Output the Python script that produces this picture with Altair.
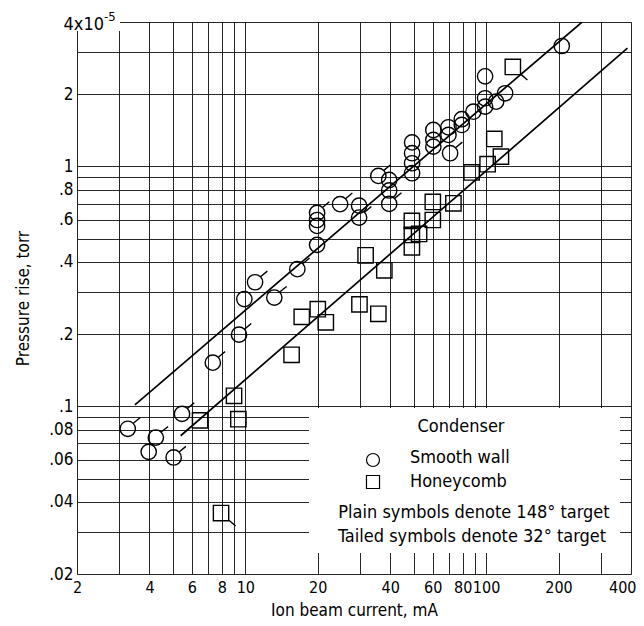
import altair as alt
import pandas as pd

FONT = "Liberation Sans Narrow, DejaVu Sans Condensed, Arial Narrow, sans-serif"

# ---- Smooth wall condenser (circles): ion beam current (mA), pressure rise (1e-5 torr)
sw_current = [3.25, 3.97, 4.25, 5.04, 5.46, 7.33, 9.42, 9.91, 10.98, 13.2,
              16.45, 19.87, 19.87, 19.87, 19.87, 24.76, 29.7, 29.7, 35.7, 39.6,
              39.6, 39.6, 49.3, 49.3, 49.3, 49.3, 60.4, 60.4, 60.4, 69.8,
              69.8, 70.9, 79.3, 79.3, 88.6, 99.1, 99.1, 110.1, 120.0, 99.1,
              206.3]
sw_pressure = [0.0806, 0.0646, 0.0741, 0.0612, 0.093, 0.152, 0.199, 0.280, 0.329, 0.284,
               0.373, 0.471, 0.640, 0.598, 0.565, 0.696, 0.686, 0.612, 0.913, 0.878,
               0.794, 0.698, 1.259, 1.135, 1.031, 0.937, 1.419, 1.289, 1.209, 1.456,
               1.353, 1.135, 1.573, 1.489, 1.691, 1.924, 1.775, 1.862, 2.018, 2.375,
               3.177]
sw_tailed = [1, 0, 1, 1, 1, 1, 1, 0, 1, 1,
             1, 0, 1, 0, 0, 1, 0, 1, 1, 0,
             0, 1, 0, 0, 0, 0, 0, 0, 0, 0,
             0, 1, 0, 0, 0, 0, 0, 0, 0, 0,
             0]

# ---- Honeycomb condenser (squares)
hc_current = [6.49, 8.98, 9.36, 7.93, 15.57, 17.16, 20.0, 21.6, 29.8, 35.7,
              31.6, 37.8, 49.2, 49.2, 52.7, 49.2, 60.1, 60.1, 73.2, 87.1,
              101.5, 115.3, 108.2, 129.2]
hc_pressure = [0.0874, 0.1106, 0.0884, 0.0359, 0.164, 0.236, 0.254, 0.224, 0.266, 0.243,
               0.426, 0.369, 0.593, 0.518, 0.523, 0.460, 0.598, 0.711, 0.702, 0.944,
               1.022, 1.099, 1.302, 2.598]
hc_tailed = [0, 0, 0, 1, 0, 0, 0, 0, 0, 0,
             0, 0, 0, 0, 0, 0, 0, 0, 0, 0,
             0, 0, 0, 1]

# ---- Fitted lines (end points)
fit_sw_current = [3.48, 250.6]
fit_sw_pressure = [0.1014, 4.0]
fit_hc_current = [5.39, 386.6]
fit_hc_pressure = [0.0754, 3.11]

# ---- Axis grid / labels
x_grid = [2, 3, 4, 5, 6, 7, 8, 9, 10, 20, 30, 40, 50, 60, 70, 80, 90, 100, 200, 300, 400]
x_labels = [2, 4, 6, 8, 10, 20, 40, 60, 80, 100, 200, 400]
y_grid = [0.02, 0.03, 0.04, 0.05, 0.06, 0.07, 0.08, 0.09, 0.1,
          0.2, 0.3, 0.4, 0.5, 0.6, 0.7, 0.8, 0.9, 1, 2, 3, 4]
y_label_vals = [0.02, 0.04, 0.06, 0.08, 0.1, 0.2, 0.4, 0.6, 0.8, 1, 2]
y_label_txt = [".02", ".04", ".06", ".08", ".1", ".2", ".4", ".6", ".8", "1", "2"]

legend_title = "Condenser"
legend_labels = ["Smooth wall", "Honeycomb"]
notes = ["Plain symbols denote 148\u00b0 target", "Tailed symbols denote 32\u00b0 target"]

CIRCLE_TAIL = "M-1,0A1,1,0,1,1,1,0A1,1,0,1,1,-1,0M0.75,-0.75L1.6,-1.45"
SQUARE_TAIL = "M-1,-1L1,-1L1,1L-1,1ZM1,0.9L1.9,1.7"


def frame(cur, prs, tailed, plain, tail):
    return pd.DataFrame({
        "current": cur,
        "pressure": prs,
        "shape": [tail if t else plain for t in tailed],
    })


pts = pd.concat([
    frame(sw_current, sw_pressure, sw_tailed, "circle", CIRCLE_TAIL),
    frame(hc_current, hc_pressure, hc_tailed, "square", SQUARE_TAIL),
], ignore_index=True)

fits = pd.concat([
    pd.DataFrame({"current": fit_sw_current, "pressure": fit_sw_pressure, "series": "Smooth wall"}),
    pd.DataFrame({"current": fit_hc_current, "pressure": fit_hc_pressure, "series": "Honeycomb"}),
], ignore_index=True)

x_expr = "indexof(" + str(x_labels) + ", datum.value) >= 0 ? '' + datum.value : ''"
y_expr = ""
for v, t in zip(y_label_vals, y_label_txt):
    y_expr += f"datum.value == {v} ? '{t}' : "
y_expr += "''"

xs = alt.Scale(type="log", domain=[2, 400], nice=False)
ys = alt.Scale(type="log", domain=[0.02, 4], nice=False)

x_axis = alt.Axis(values=x_grid, labelExpr=x_expr, grid=True, ticks=False, domain=False,
                  gridColor="#111111", gridOpacity=0.9, gridWidth=1,
                  labelFont=FONT, labelFontSize=16, labelPadding=5, labelColor="black",
                  labelFlush=False, labelOverlap=False,
                  labelAlign={"condition": {"test": "datum.value == 400", "value": "right"},
                              "value": "center"},
                  labelOffset={"condition": {"test": "datum.value == 400", "value": 5},
                               "value": 0},
                  title="Ion beam current, mA", titleFont=FONT, titleFontSize=17,
                  titleFontWeight="normal", titleColor="black",
                  titleX=277, titleY=41, titleBaseline="alphabetic")
y_axis = alt.Axis(values=y_grid, labelExpr=y_expr, grid=True, ticks=False, domain=False,
                  gridColor="#111111", gridOpacity=0.9, gridWidth=1,
                  labelFont=FONT, labelFontSize=17, labelPadding=4, labelColor="black",
                  labelFlush=False, labelOverlap=False, labelBaseline="middle",
                  title="Pressure rise, torr", titleFont=FONT, titleFontSize=17,
                  titleFontWeight="normal", titleColor="black",
                  titleX=-49, titleY=276, titleAngle=-90, titleBaseline="alphabetic",
                  titleAlign="center")

X = alt.X("current:Q", scale=xs, axis=x_axis)
Y = alt.Y("pressure:Q", scale=ys, axis=y_axis)

one = pd.DataFrame({"a": [0]})

box = alt.Chart(one).mark_rect(color="white").encode(
    x=alt.value(232), x2=alt.value(543), y=alt.value(386), y2=alt.value(531))

lines = alt.Chart(fits).mark_line(color="black", strokeWidth=1.7, clip=True).encode(
    x=X, y=Y, detail="series:N")

points = alt.Chart(pts).mark_point(filled=False, color="black", strokeWidth=1.4,
                                   size=235, opacity=1).encode(
    x=X, y=Y, shape=alt.Shape("shape:N", scale=None))

txt = dict(font=FONT, fontSize=18, color="black")

leg_title = alt.Chart(pd.DataFrame({"t": [legend_title]})).mark_text(
    align="center", baseline="middle", **txt).encode(
    x=alt.value(384), y=alt.value(405), text="t:N")

leg_c = alt.Chart(one).mark_point(shape="circle", size=170, filled=False, color="black",
                                  strokeWidth=1.2, opacity=1).encode(
    x=alt.value(296), y=alt.value(438))
leg_s = alt.Chart(one).mark_point(shape="square", size=170, filled=False, color="black",
                                  strokeWidth=1.2, opacity=1).encode(
    x=alt.value(296), y=alt.value(460))

leg_l1 = alt.Chart(pd.DataFrame({"t": [legend_labels[0]]})).mark_text(
    align="left", baseline="middle", **txt).encode(
    x=alt.value(333), y=alt.value(436), text="t:N")
leg_l2 = alt.Chart(pd.DataFrame({"t": [legend_labels[1]]})).mark_text(
    align="left", baseline="middle", **txt).encode(
    x=alt.value(333), y=alt.value(460), text="t:N")

note1 = alt.Chart(pd.DataFrame({"t": [notes[0]]})).mark_text(
    align="center", baseline="middle", **txt).encode(
    x=alt.value(397), y=alt.value(491), text="t:N")
note2 = alt.Chart(pd.DataFrame({"t": [notes[1]]})).mark_text(
    align="center", baseline="middle", **txt).encode(
    x=alt.value(395), y=alt.value(515), text="t:N")

top_bg = alt.Chart(one).mark_rect(color="white").encode(
    x=alt.value(-14), x2=alt.value(43), y=alt.value(-14), y2=alt.value(9))
top1 = alt.Chart(pd.DataFrame({"t": ["4x10"]})).mark_text(
    align="right", baseline="middle", **txt).encode(
    x=alt.value(27), y=alt.value(3), text="t:N")
top2 = alt.Chart(pd.DataFrame({"t": ["-5"]})).mark_text(
    align="left", baseline="middle", font=FONT, fontSize=13, color="black").encode(
    x=alt.value(27), y=alt.value(-5), text="t:N")

chart = alt.layer(
    box, lines, points, leg_title, leg_c, leg_s, leg_l1, leg_l2, note1, note2,
    top_bg, top1, top2
).properties(
    width=554, height=552,
    autosize=alt.AutoSizeParams(type="none"),
    padding={"left": 69, "top": 14, "right": 5, "bottom": 44},
).configure_view(
    stroke="black", strokeWidth=1.2
).configure(background="white")

chart.save("out.html", embed_options={"renderer": "svg", "actions": False})
